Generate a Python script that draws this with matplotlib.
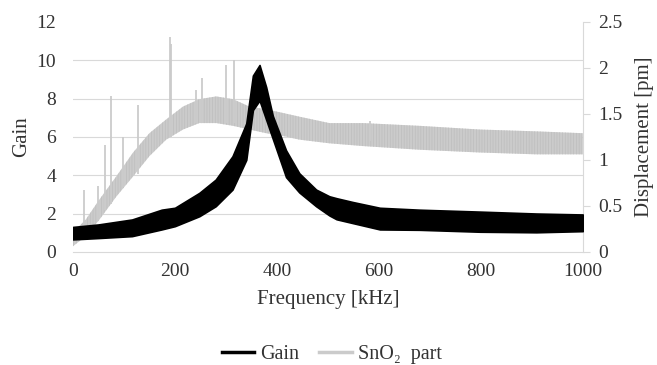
import numpy as np
import matplotlib
matplotlib.use("Agg")
import matplotlib.pyplot as plt
from matplotlib.lines import Line2D

plt.rcParams["font.family"] = ["Liberation Serif", "DejaVu Serif"]
plt.rcParams["hatch.linewidth"] = 0.5

gain_freq = [0, 50, 116, 174, 200, 248, 280, 313, 340, 353, 366, 379, 392,
             418, 444, 477, 503, 517, 549, 602, 680, 798, 909, 1000]
gain_low = [0.65, 0.72, 0.82, 1.17, 1.34, 1.86, 2.38, 3.25, 4.8, 7.4, 7.9, 6.9, 5.9,
            3.9, 3.1, 2.38, 1.9, 1.7, 1.5, 1.17, 1.15, 1.05, 1.02, 1.08]
gain_high = [1.3, 1.43, 1.69, 2.2, 2.3, 3.08, 3.77, 4.99, 6.7, 9.2, 9.75, 8.6, 7.1,
             5.3, 4.1, 3.25, 2.9, 2.8, 2.6, 2.3, 2.2, 2.1, 2.0, 1.95]

# SnO2 part displacement band (right axis)
disp_freq = [0, 25, 52, 85, 118, 150, 183, 216, 248, 281, 314, 346, 379, 412,
             444, 503, 569, 680, 798, 909, 1000]
disp_low = [0.06, 0.17, 0.35, 0.60, 0.82, 1.04, 1.22, 1.33, 1.40, 1.40, 1.37, 1.33,
            1.29, 1.26, 1.22, 1.18, 1.15, 1.11, 1.08, 1.06, 1.06]
disp_high = [0.21, 0.35, 0.57, 0.82, 1.08, 1.29, 1.44, 1.58, 1.66, 1.69, 1.66, 1.58,
             1.55, 1.51, 1.47, 1.40, 1.40, 1.37, 1.33, 1.31, 1.29]

# isolated spikes in the SnO2 trace
spike_freq = [22, 50, 63, 74, 98, 127, 190, 193, 241, 253, 300, 315, 582]
spike_low = [0.2, 0.35, 0.45, 0.52, 0.7, 0.85, 1.25, 1.25, 1.4, 1.4, 1.4, 1.4, 1.2]
spike_top = [0.67, 0.72, 1.16, 1.69, 1.25, 1.60, 2.34, 2.26, 1.76, 1.89, 2.03, 2.09, 1.42]

gain_ticks = [0, 2, 4, 6, 8, 10, 12]
disp_ticks = [0, 0.5, 1, 1.5, 2, 2.5]
disp_labels = ["0", "0.5", "1", "1.5", "2", "2.5"]
freq_ticks = [0, 200, 400, 600, 800, 1000]

BLACK = "#000000"
GREY = "#cbcbcb"
GREY_DARK = "#bdbdbd"
TEXT = "#333333"
GRID = "#d9d9d9"

fig = plt.figure(figsize=(6.57, 3.65), dpi=100)
ax = fig.add_axes([0.111, 0.31, 0.776, 0.63])
ax2 = ax.twinx()

# grey series sits underneath the black one
ax.set_zorder(ax2.get_zorder() + 1)
ax.patch.set_visible(False)

ax2.fill_between(disp_freq, disp_low, disp_high, facecolor=GREY,
                 edgecolor=GREY_DARK, hatch="||||||", lw=0, zorder=2)
ax2.vlines(spike_freq, spike_low, spike_top, color=GREY, lw=1.3, zorder=2)
ax.fill_between(gain_freq, gain_low, gain_high, color=BLACK, lw=1.2, zorder=3)

ax.set_xlim(0, 1000)
ax.set_ylim(0, 12)
ax2.set_ylim(0, 2.5)
ax.set_xticks(freq_ticks)
ax.set_yticks(gain_ticks)
ax2.set_yticks(disp_ticks)
ax2.set_yticklabels(disp_labels)

# grid drawn on the lower axes so it stays behind the data
ax2.set_yticks(np.array(gain_ticks) * 2.5 / 12, minor=True)
ax2.grid(which="minor", axis="y", color=GRID, lw=0.8)
ax2.grid(which="major", axis="x", color=GRID, lw=0.8)
ax2.set_axisbelow(True)

for a in (ax, ax2):
    for s in a.spines.values():
        s.set_visible(False)
ax2.spines["bottom"].set_visible(True)
ax2.spines["bottom"].set_color(GRID)
ax2.spines["right"].set_visible(True)
ax2.spines["right"].set_color(GRID)

ax.tick_params(axis="x", length=0, labelsize=14, labelcolor=TEXT, pad=8)
ax.tick_params(axis="y", length=0, labelsize=14, labelcolor=TEXT, pad=12)
ax2.tick_params(axis="y", which="major", length=5, color=GRID, labelsize=14,
                labelcolor=TEXT, pad=6)
ax2.tick_params(axis="y", which="minor", length=0)

ax.set_xlabel("Frequency [kHz]", fontsize=15, color=TEXT, labelpad=7)
ax.set_ylabel("Gain", fontsize=15, color=TEXT, labelpad=4)
ax2.set_ylabel("Displacement [pm]", fontsize=15, color=TEXT, labelpad=9)

handles = [Line2D([], [], color=BLACK, lw=2.5),
           Line2D([], [], color=GREY, lw=2.5)]
fig.legend(handles, ["Gain", "SnO\u2082  part"], loc="center",
           bbox_to_anchor=(0.505, 0.03), ncol=2, frameon=False,
           fontsize=14.5, handlelength=1.6, handletextpad=0.3, columnspacing=1.0,
           labelcolor=TEXT)

fig.savefig("out.png", dpi=100)
